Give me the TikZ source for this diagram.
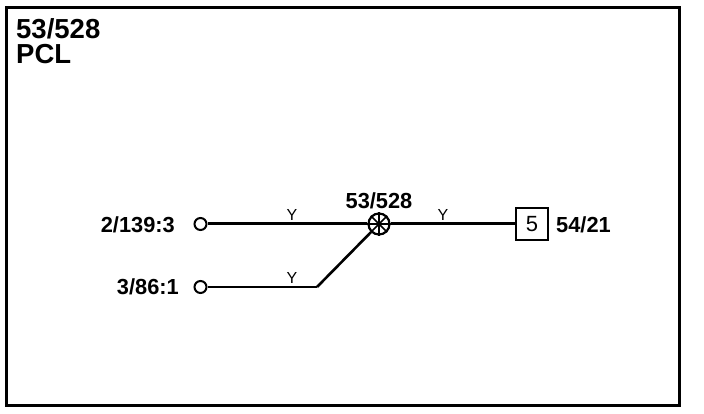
\documentclass[tikz,border=0pt]{standalone}
\usepackage{fontspec}
\setmainfont{Liberation Sans}
\usetikzlibrary{positioning}
\begin{document}
\begin{tikzpicture}[x=1pt,y=-1pt]
  \tikzstyle{terminal}=[circle,draw,line width=2pt,minimum size=12pt,inner sep=0pt]
  \tikzstyle{splice}=[circle,draw,line width=2.2pt,minimum size=21pt,inner sep=0pt]
  \tikzstyle{connector}=[draw,line width=2.2pt,minimum size=32pt,inner sep=0pt,font=\fontsize{22}{22}\selectfont]
  \tikzstyle{pin}=[font=\bfseries\fontsize{21.8}{22}\selectfont,inner sep=0pt]
  \tikzstyle{wirename}=[font=\fontsize{16}{16}\selectfont,inner sep=0pt]
  \useasboundingbox (0,0) rectangle (704,414);
  % frame
  \draw[line width=3pt] (6.5,7.5) rectangle (679.5,405.5);
  \node[font=\bfseries\fontsize{27.5}{25}\selectfont,align=left,inner sep=0pt,anchor=north west] (title) at (16,18) {53/528\\PCL};
  % ends
  \node[terminal] (T1) at (200.5,224) {};
  \node[terminal] (T2) at (200.5,287) {};
  \node[splice] (S1) at (379,224) {};
  \node[connector] (C1) at (532,224) {5};
  \coordinate (bend) at (317,287);
  % wires
  \draw[line width=3pt] (T1) -- (S1);
  \draw[line width=3pt] (S1) -- (C1);
  \draw[line width=2pt] (T2) -- (bend);
  \draw[line width=2.6pt] (bend) -- (S1);
  % splice spokes
  \foreach \a in {0,45,...,315}
    \draw[line width=1.5pt] (S1.center) -- (S1.\a);
  % labels
  \node[pin,anchor=east] (L1) at (175,224.5) {2/139:3};
  \node[pin,anchor=east] (L2) at (179,287) {3/86:1};
  \node[pin] (L3) at (379,200.5) {53/528};
  \node[pin,anchor=west] (L4) at (556,224.5) {54/21};
  \node[wirename] (Y1) at (292,215) {Y};
  \node[wirename] (Y2) at (292,278) {Y};
  \node[wirename] (Y3) at (443,215) {Y};
\end{tikzpicture}
\end{document}
